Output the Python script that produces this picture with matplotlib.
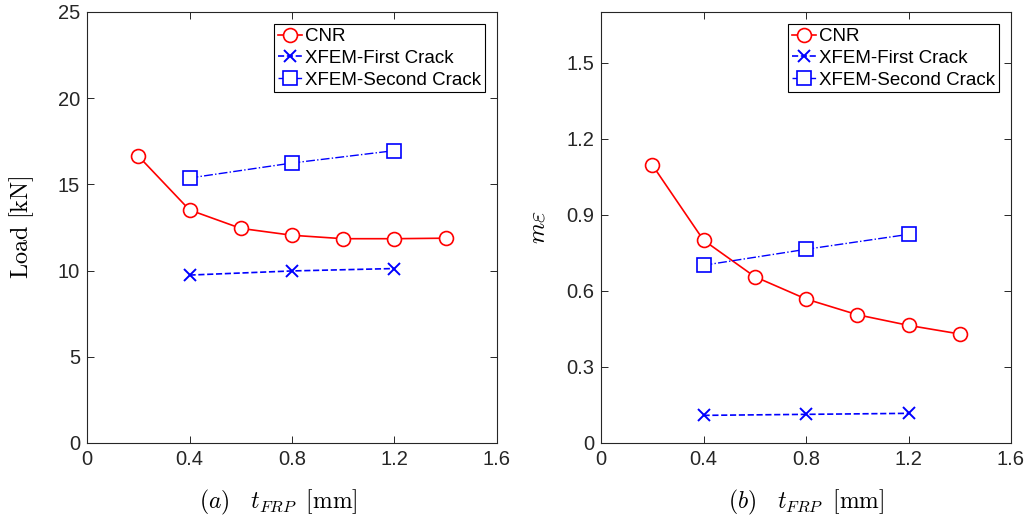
import matplotlib
matplotlib.use('Agg')
import matplotlib.pyplot as plt

plt.rcParams['font.family'] = ['Liberation Sans', 'DejaVu Sans']
plt.rcParams['mathtext.fontset'] = 'cm'

# thickness values (mm)
t_cnr = [0.2, 0.4, 0.6, 0.8, 1.0, 1.2, 1.4]
t_xfem = [0.4, 0.8, 1.2]

# (a) load [kN]
load_cnr = [16.65, 13.52, 12.45, 12.05, 11.85, 11.85, 11.88]
load_first = [9.74, 9.98, 10.12]
load_second = [15.37, 16.24, 16.96]

# (b) m epsilon
me_cnr = [1.097, 0.800, 0.656, 0.568, 0.506, 0.464, 0.430]
me_first = [0.109, 0.113, 0.117]
me_second = [0.701, 0.764, 0.823]

labels = ['CNR', 'XFEM-First Crack', 'XFEM-Second Crack']
axcol = (0.15, 0.15, 0.15)


def draw(ax, cnr, first, second, ylim, yticks, ylabel, xlabel, xlab_x, ypad):
    ax.plot(t_cnr, cnr, '-o', color='red', lw=1.2, ms=10, mfc='white',
            mew=1.2, label=labels[0])
    ax.plot(t_xfem, first, '--x', color='blue', lw=1.2, ms=9, mew=1.4,
            label=labels[1])
    ax.plot(t_xfem, second, '-.s', color='blue', lw=1.0, ms=10, mfc='white',
            mew=1.2, label=labels[2])
    ax.set_xlim(0, 1.6)
    ax.set_ylim(*ylim)
    ax.set_xticks([0, 0.4, 0.8, 1.2, 1.6])
    ax.set_xticklabels(['0', '0.4', '0.8', '1.2', '1.6'])
    ax.set_yticks(yticks)
    ax.tick_params(direction='in', top=True, right=True, labelsize=14.5,
                   colors=axcol, length=5, width=0.7, pad=5)
    for s in ax.spines.values():
        s.set_color(axcol)
        s.set_linewidth(0.8)
    ax.set_ylabel(ylabel, fontsize=17.5, labelpad=ypad)
    ax.set_xlabel(xlabel, fontsize=17, labelpad=14, x=xlab_x)
    leg = ax.legend(loc='upper right', fontsize=13.5, fancybox=False,
                    edgecolor='black', framealpha=1, borderpad=0.2,
                    labelspacing=0.25, handlelength=1.3, handletextpad=0.15,
                    borderaxespad=0.65)
    leg.get_frame().set_linewidth(0.8)


fig = plt.figure(figsize=(10.33, 5.23), dpi=100)
ax1 = fig.add_axes([87 / 1033, 80 / 523, 410 / 1033, 431 / 523])
ax2 = fig.add_axes([601 / 1033, 80 / 523, 410 / 1033, 431 / 523])

draw(ax1, load_cnr, load_first, load_second, (0, 25), [0, 5, 10, 15, 20, 25],
     r'$\mathrm{Load\ [kN]}$', r'$(a)\quad t_{FRP}\;\; \mathrm{[mm]}$',
     0.466, 16)
draw(ax2, me_cnr, me_first, me_second, (0, 1.7), [0, 0.3, 0.6, 0.9, 1.2, 1.5],
     r'$m\varepsilon$', r'$(b)\quad t_{FRP}\;\; \mathrm{[mm]}$',
     0.5, 12)
ax2.set_yticklabels(['0', '0.3', '0.6', '0.9', '1.2', '1.5'])

fig.savefig('out.png', dpi=100)
